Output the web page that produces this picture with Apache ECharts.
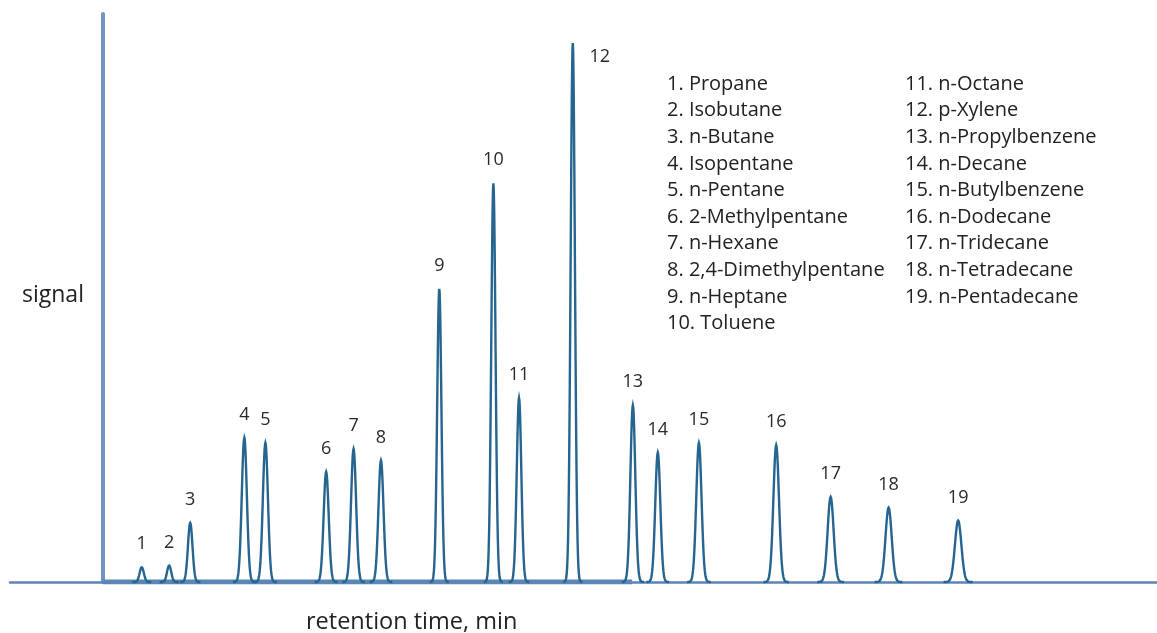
<!DOCTYPE html>
<html>
<head>
<meta charset="utf-8">
<script src="https://cdn.jsdelivr.net/npm/echarts@6/dist/echarts.min.js"></script>
<style>
html, body { margin: 0; padding: 0; background: #fff; }
#chart { width: 1157px; height: 633px; }
</style>
</head>
<body>
<div id="chart"></div>
<script>
// peak numbers, retention time (min), signal height, peak sigma (min)
var peakLabels = ['1', '2', '3', '4', '5', '6', '7', '8', '9', '10',
                  '11', '12', '13', '14', '15', '16', '17', '18', '19'];
var retentionTimes = [1.10, 1.88, 2.48, 4.02, 4.62, 6.35, 7.13, 7.91, 9.57, 11.11,
                      11.84, 13.37, 15.08, 15.79, 16.96, 19.16, 20.71, 22.36, 24.34];
var peakHeights = [2.6, 2.9, 10.4, 25.4, 24.5, 19.4, 23.4, 21.4, 51.6, 70.2,
                   32.4, 94.9, 31.1, 22.8, 24.5, 24.1, 15.0, 13.1, 10.8];
var peakWidths = [0.06, 0.06, 0.065, 0.072, 0.072, 0.072, 0.072, 0.072, 0.06, 0.06,
                  0.065, 0.06, 0.07, 0.072, 0.075, 0.08, 0.085, 0.088, 0.092];
var compoundNames = ['1. Propane', '2. Isobutane', '3. n-Butane', '4. Isopentane',
  '5. n-Pentane', '6. 2-Methylpentane', '7. n-Hexane', '8. 2,4-Dimethylpentane',
  '9. n-Heptane', '10. Toluene', '11. n-Octane', '12. p-Xylene', '13. n-Propylbenzene',
  '14. n-Decane', '15. n-Butylbenzene', '16. n-Dodecane', '17. n-Tridecane',
  '18. n-Tetradecane', '19. n-Pentadecane'];
var thickBaseEnd = 15.06;

var peakData = [];
for (var i = 0; i < peakLabels.length; i++) {
    peakData.push([retentionTimes[i], peakHeights[i], peakWidths[i]]);
}

var font = '"Open Sans", "DejaVu Sans", sans-serif';

function renderPeak(params, api) {
    var rt = api.value(0), h = api.value(1), w = api.value(2);
    var pts = [];
    for (var t = -4.5; t <= 4.501; t += 0.15) {
        pts.push(api.coord([rt + t * w, h * Math.exp(-t * t / 2)]));
    }
    var top = api.coord([rt, h]);
    var tx = top[0], ty = top[1] - 23;
    if (params.dataIndex === 11) {   // p-Xylene label sits to the right of its peak
        tx = top[0] + 27;
        ty = top[1] + 14;
    }
    return {
        type: 'group',
        children: [
            {
                type: 'polyline',
                shape: { points: pts },
                style: { stroke: '#26658f', lineWidth: 2.4, fill: null }
            },
            {
                type: 'text',
                x: tx,
                y: ty,
                style: {
                    text: peakLabels[params.dataIndex],
                    fontSize: 18,
                    fontFamily: font,
                    fill: '#2a2a2a',
                    align: 'center',
                    verticalAlign: 'middle'
                }
            }
        ]
    };
}

var texts = [];
for (var j = 0; j < compoundNames.length; j++) {
    var col = j < 10 ? 0 : 1;
    var row = j < 10 ? j : j - 10;
    texts.push({
        type: 'text',
        x: col === 0 ? 667 : 905,
        y: 84 + row * 26.6,
        style: {
            text: compoundNames[j],
            fontSize: 20,
            fontFamily: font,
            fill: '#222',
            align: 'left',
            verticalAlign: 'middle'
        }
    });
}
texts.push({
    type: 'text',
    x: 306,
    y: 622,
    style: {
        text: 'retention time, min',
        fontSize: 23.5,
        fontFamily: font,
        fill: '#222',
        align: 'left',
        verticalAlign: 'middle'
    }
});
texts.push({
    type: 'text',
    x: 22,
    y: 295,
    style: {
        text: 'signal',
        fontSize: 23,
        fontFamily: font,
        fill: '#222',
        align: 'left',
        verticalAlign: 'middle'
    }
});

var chart = echarts.init(document.getElementById('chart'));
var option = {
    backgroundColor: '#fff',
    animation: false,
    grid: { left: 10, right: 0, top: 14, bottom: 51, containLabel: false, outerBoundsMode: 'none' },
    xAxis: {
        type: 'value',
        min: -2.65,
        max: 30,
        axisLine: { show: true, lineStyle: { color: '#5b86b5', width: 2.5 } },
        axisTick: { show: false },
        axisLabel: { show: false },
        splitLine: { show: false }
    },
    yAxis: {
        type: 'value',
        min: 0,
        max: 100,
        axisLine: { show: true, onZero: true, lineStyle: { color: '#7096c8', width: 4 } },
        axisTick: { show: false },
        axisLabel: { show: false },
        splitLine: { show: false }
    },
    graphic: texts,
    series: [
        {
            type: 'line',
            data: [[0, 0], [thickBaseEnd, 0]],
            symbol: 'none',
            lineStyle: { color: '#5b86b5', width: 5 },
            z: 2
        },
        {
            type: 'custom',
            renderItem: renderPeak,
            data: peakData,
            z: 3
        }
    ]
};
chart.setOption(option);
</script>
</body>
</html>
